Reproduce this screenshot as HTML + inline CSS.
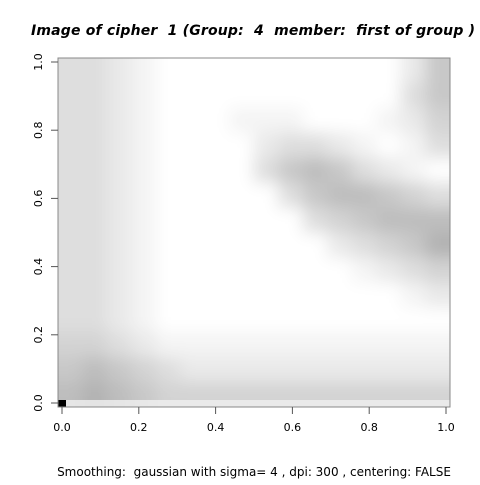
<!DOCTYPE html>
<html><head><meta charset="utf-8"><style>
body{margin:0;background:#fff;width:480px;height:480px;overflow:hidden}
svg text{font-family:"DejaVu Sans","Liberation Sans",sans-serif;fill:#000;white-space:pre}
</style></head><body>
<svg id="chart" width="480" height="480" viewBox="0 0 480 480">
<defs>
<filter id="bl" filterUnits="userSpaceOnUse" x="0" y="0" width="480" height="480"><feGaussianBlur stdDeviation="8"/></filter>
<clipPath id="pc"><rect x="58" y="58" width="392" height="349"/></clipPath>
</defs>
<text x="31" y="35" font-size="14" font-weight="bold" font-style="italic" textLength="444" xml:space="preserve">Image of cipher  1 (Group:  4  member:  first of group )</text>
<g id="cells" clip-path="url(#pc)"><rect x="58" y="58" width="392" height="349" fill="#fff"/><g id="blurred" filter="url(#bl)"></g></g>
<rect x="58" y="400" width="392" height="7" fill="#f0f0f0" opacity="0.8"/>
<rect x="58" y="400" width="8" height="7" fill="#000"/>
<rect x="58" y="58" width="392" height="349" fill="none" stroke="#888" stroke-width="1"/>
<g id="axes"></g>
<text x="254" y="476" font-size="12" text-anchor="middle" xml:space="preserve">Smoothing:  gaussian with sigma= 4 , dpi: 300 , centering: FALSE</text>
</svg>
<script>
const rows = [
 "3321000000000025",
 "3321000000000035",
 "3321000111000124",
 "3321000023321013",
 "3321000035653210",
 "3321000003566543",
 "3321000000345666",
 "3321000000023457",
 "3321000000001234",
 "3321000000000012",
 "3321000000000000",
 "4432111111111111",
 "5654322222222222",
 "6765444444444444"
];
const xTicks = [0, 0.2, 0.4, 0.6, 0.8, 1.0];
const yTicks = [0, 0.2, 0.4, 0.6, 0.8, 1.0];
const NS = "http://www.w3.org/2000/svg";
const px0 = 58, py0 = 58, pw = 392, ph = 349;
const xs = v => 62 + v * 384;
const ys = v => 403 - v * 341;
const g = document.getElementById("blurred");
const nr = rows.length, nc = rows[0].length;
const cw = pw / nc, ch = ph / nr;
const pad = 40;
rows.forEach((r, i) => {
  for (let j = 0; j < nc; j++) {
    const v = +r[j];
    const c = 255 - v * 11;
    let x = px0 + j * cw, y = py0 + i * ch, w = cw + 0.5, h = ch + 0.5;
    if (j === 0) { x -= pad; w += pad; }
    if (j === nc - 1) { w += pad; }
    if (i === 0) { y -= pad; h += pad; }
    if (i === nr - 1) { h += pad; }
    const rc = document.createElementNS(NS, "rect");
    
    
    rc.setAttribute("x", x); rc.setAttribute("y", y);
    rc.setAttribute("width", w); rc.setAttribute("height", h);
    rc.setAttribute("fill", `rgb(${c},${c},${c})`);
    g.appendChild(rc);
  }
});
const ax = document.getElementById("axes");
function mk(tag, attrs, text) {
  const e = document.createElementNS(NS, tag);
  for (const k in attrs) e.setAttribute(k, attrs[k]);
  if (text !== undefined) e.textContent = text;
  ax.appendChild(e); return e;
}
xTicks.forEach(t => {
  const l = mk("line", {x1: xs(t), x2: xs(t), y1: 407, y2: 414, stroke: "#555"});
  
  
  const tx = mk("text", {x: xs(t), y: 431, "font-size": 11, "text-anchor": "middle"}, t.toFixed(1));
  
  
});
yTicks.forEach(t => {
  const l = mk("line", {x1: 51, x2: 58, y1: ys(t), y2: ys(t), stroke: "#555"});
  
  
  const tx = mk("text", {x: 42, y: ys(t), "font-size": 11, "text-anchor": "middle", transform: `rotate(-90 42 ${ys(t)})`}, t.toFixed(1));
  
  
});
</script>
</body></html>
